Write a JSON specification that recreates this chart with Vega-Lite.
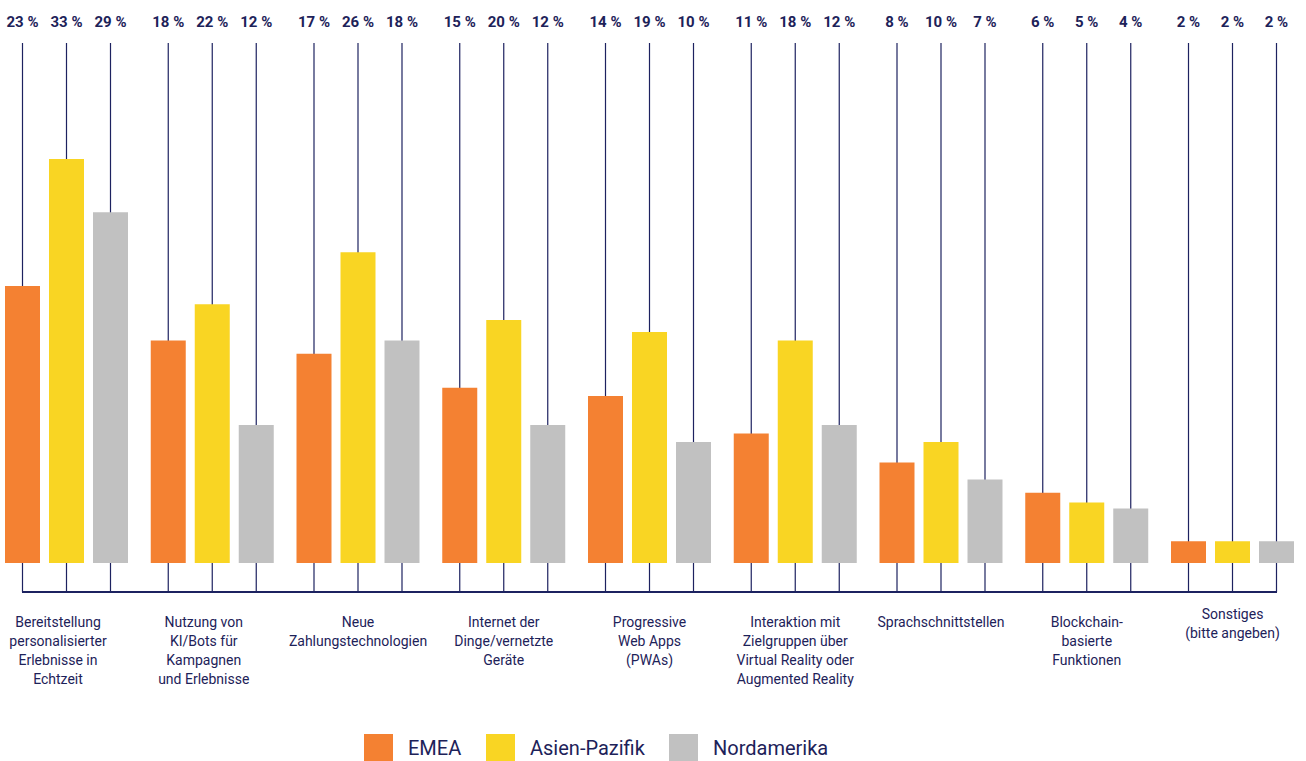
{
  "$schema": "https://vega.github.io/schema/vega-lite/v6.json",
  "width": 1289,
  "height": 549,
  "autosize": {"type": "none"},
  "padding": {"left": 5, "top": 43, "right": 12, "bottom": 169},
  "background": "white",
  "config": {"view": {"stroke": null}, "font": "Roboto"},
  "data": {
    "values": [
      {"group": "Bereitstellung\npersonalisierter\nErlebnisse in\nEchtzeit", "region": "EMEA", "value": 22.9, "label": "23 %"},
      {"group": "Bereitstellung\npersonalisierter\nErlebnisse in\nEchtzeit", "region": "Asien-Pazifik", "value": 33.4, "label": "33 %"},
      {"group": "Bereitstellung\npersonalisierter\nErlebnisse in\nEchtzeit", "region": "Nordamerika", "value": 29.0, "label": "29 %"},
      {"group": "Nutzung von\nKI/Bots für\nKampagnen\nund Erlebnisse", "region": "EMEA", "value": 18.4, "label": "18 %"},
      {"group": "Nutzung von\nKI/Bots für\nKampagnen\nund Erlebnisse", "region": "Asien-Pazifik", "value": 21.4, "label": "22 %"},
      {"group": "Nutzung von\nKI/Bots für\nKampagnen\nund Erlebnisse", "region": "Nordamerika", "value": 11.4, "label": "12 %"},
      {"group": "Neue\nZahlungstechnologien", "region": "EMEA", "value": 17.3, "label": "17 %"},
      {"group": "Neue\nZahlungstechnologien", "region": "Asien-Pazifik", "value": 25.7, "label": "26 %"},
      {"group": "Neue\nZahlungstechnologien", "region": "Nordamerika", "value": 18.4, "label": "18 %"},
      {"group": "Internet der\nDinge/vernetzte\nGeräte", "region": "EMEA", "value": 14.5, "label": "15 %"},
      {"group": "Internet der\nDinge/vernetzte\nGeräte", "region": "Asien-Pazifik", "value": 20.1, "label": "20 %"},
      {"group": "Internet der\nDinge/vernetzte\nGeräte", "region": "Nordamerika", "value": 11.4, "label": "12 %"},
      {"group": "Progressive\nWeb Apps\n(PWAs)", "region": "EMEA", "value": 13.8, "label": "14 %"},
      {"group": "Progressive\nWeb Apps\n(PWAs)", "region": "Asien-Pazifik", "value": 19.1, "label": "19 %"},
      {"group": "Progressive\nWeb Apps\n(PWAs)", "region": "Nordamerika", "value": 10.0, "label": "10 %"},
      {"group": "Interaktion mit\nZielgruppen über\nVirtual Reality oder\nAugmented Reality", "region": "EMEA", "value": 10.7, "label": "11 %"},
      {"group": "Interaktion mit\nZielgruppen über\nVirtual Reality oder\nAugmented Reality", "region": "Asien-Pazifik", "value": 18.4, "label": "18 %"},
      {"group": "Interaktion mit\nZielgruppen über\nVirtual Reality oder\nAugmented Reality", "region": "Nordamerika", "value": 11.4, "label": "12 %"},
      {"group": "Sprachschnittstellen", "region": "EMEA", "value": 8.3, "label": "8 %"},
      {"group": "Sprachschnittstellen", "region": "Asien-Pazifik", "value": 10.0, "label": "10 %"},
      {"group": "Sprachschnittstellen", "region": "Nordamerika", "value": 6.9, "label": "7 %"},
      {"group": "Blockchain-\nbasierte\nFunktionen", "region": "EMEA", "value": 5.8, "label": "6 %"},
      {"group": "Blockchain-\nbasierte\nFunktionen", "region": "Asien-Pazifik", "value": 5.0, "label": "5 %"},
      {"group": "Blockchain-\nbasierte\nFunktionen", "region": "Nordamerika", "value": 4.5, "label": "4 %"},
      {"group": "Sonstiges\n(bitte angeben)", "region": "EMEA", "value": 1.8, "label": "2 %"},
      {"group": "Sonstiges\n(bitte angeben)", "region": "Asien-Pazifik", "value": 1.8, "label": "2 %"},
      {"group": "Sonstiges\n(bitte angeben)", "region": "Nordamerika", "value": 1.8, "label": "2 %"}
    ]
  },
  "encoding": {
    "x": {
      "field": "group",
      "type": "nominal",
      "sort": null,
      "scale": {"paddingInner": 0.1561, "paddingOuter": 0},
      "axis": {
        "title": null,
        "domain": false,
        "ticks": false,
        "labelAngle": 0,
        "labelFont": "Roboto",
        "labelFontSize": 14,
        "labelColor": "#1d2259",
        "labelLineHeight": 19,
        "labelBaseline": "top",
        "labelAlign": "center",
        "labelPadding": {"condition": {"test": "indexof(datum.value, 'Sonstiges') == 0", "value": 15}, "value": 23},
        "labelOffset": {"condition": {"test": "indexof(datum.value, 'Bereitstellung') == 0 || indexof(datum.value, 'Nutzung') == 0", "value": -8.5}, "value": 0},
        "labelLimit": 300,
        "labelOverlap": false,
        "labelBound": false,
        "labelFlush": false,
        "labelExpr": "split(datum.value, '\\n')"
      }
    }
  },
  "layer": [
    {
      "mark": {"type": "rule", "stroke": "#1d2260", "strokeWidth": 1.2},
      "encoding": {
        "xOffset": {"field": "region", "type": "nominal", "sort": null, "scale": {"paddingInner": 0.2045, "paddingOuter": 0}},
        "y": {"datum": 43, "type": "quantitative", "scale": {"domain": [-2.4, 43], "nice": false, "zero": false}, "axis": null},
        "y2": {"datum": -2.4}
      }
    },
    {
      "mark": {"type": "rule", "stroke": "#1d2260", "strokeWidth": 1.2, "xOffset": -44, "x2Offset": 44},
      "encoding": {
        "x": {"datum": "Bereitstellung\npersonalisierter\nErlebnisse in\nEchtzeit", "type": "nominal"},
        "x2": {"datum": "Sonstiges\n(bitte angeben)"},
        "y": {"datum": -2.4, "type": "quantitative", "scale": {"domain": [-2.4, 43], "nice": false, "zero": false}, "axis": null}
      }
    },
    {
      "mark": {"type": "bar"},
      "encoding": {
        "xOffset": {"field": "region", "type": "nominal", "sort": null, "scale": {"paddingInner": 0.2045, "paddingOuter": 0}},
        "y": {"field": "value", "type": "quantitative", "scale": {"domain": [-2.4, 43], "nice": false, "zero": false}, "axis": null},
        "color": {
          "field": "region",
          "type": "nominal",
          "sort": null,
          "scale": {"domain": ["EMEA", "Asien-Pazifik", "Nordamerika"], "range": ["#F48132", "#F9D523", "#C1C1C1"]},
          "legend": {
            "orient": "none",
            "legendX": 359,
            "legendY": 691,
            "direction": "horizontal",
            "title": null,
            "symbolType": "square",
            "symbolSize": 841,
            "symbolStrokeWidth": 0,
            "labelFont": "Roboto",
            "labelFontSize": 20,
            "labelColor": "#1d2259",
            "labelOffset": 15,
            "columnPadding": 24,
            "padding": 0
          }
        }
      }
    },
    {
      "mark": {"type": "text", "fontWeight": "bold", "fontSize": 15, "color": "#1d2259", "baseline": "middle", "align": "center", "dy": -21.5},
      "encoding": {
        "xOffset": {"field": "region", "type": "nominal", "sort": null, "scale": {"paddingInner": 0.2045, "paddingOuter": 0}},
        "y": {"datum": 43, "type": "quantitative", "scale": {"domain": [-2.4, 43], "nice": false, "zero": false}, "axis": null},
        "text": {"field": "label"}
      }
    }
  ]
}
